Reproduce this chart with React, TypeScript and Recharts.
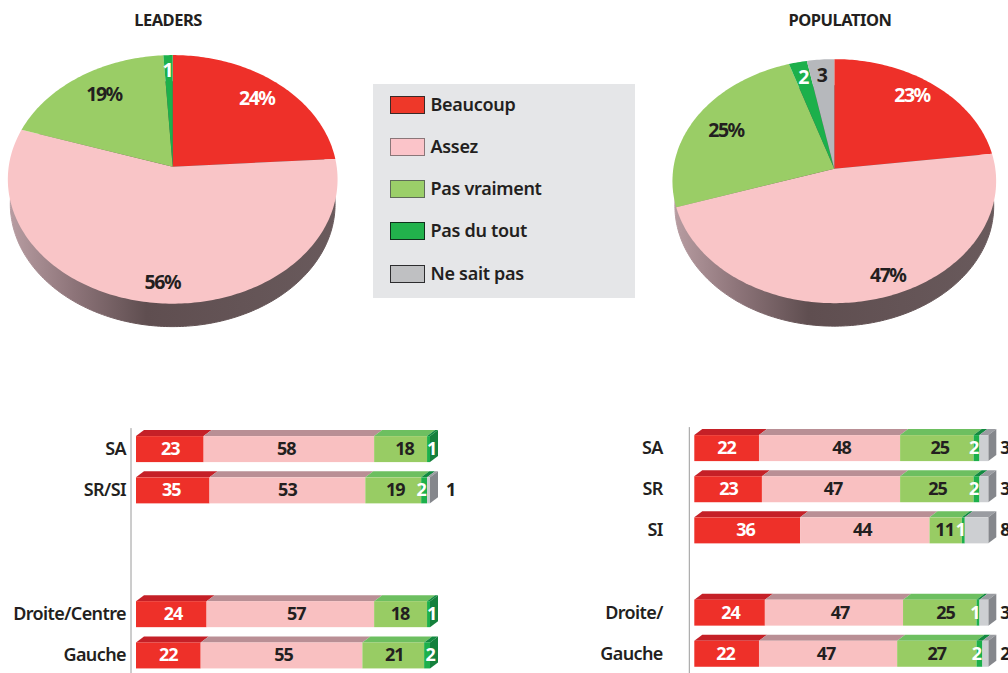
import React from "react";
import { PieChart, Pie, BarChart, Bar, XAxis, YAxis, LabelList } from "recharts";

// ---------- data ----------
const answerNames = ["Beaucoup", "Assez", "Pas vraiment", "Pas du tout", "Ne sait pas"];
const leadersPie = [24, 56, 19, 1, 0];
const populationPie = [23, 47, 25, 2, 3];
const leadersPieLabels = ["24%", "56%", "19%", "1", ""];
const populationPieLabels = ["23%", "47%", "25%", "2", "3"];

const leadersCategories = ["SA", "SR/SI", "", "", "Droite/Centre", "Gauche"];
const leadersBeaucoup = [23, 25, 0, 0, 24, 22];
const leadersBeaucoupLabels = [23, 35, 0, 0, 24, 22]; // the printed figure reads 35 on a bar 25 long
const leadersAssez = [58, 53, 0, 0, 57, 55];
const leadersPasVraiment = [18, 19, 0, 0, 18, 21];
const leadersPasDuTout = [1, 2, 0, 0, 1, 2];
const leadersNeSaitPas = [0, 1, 0, 0, 0, 0];

const populationCategories = ["SA", "SR", "SI", "", "Droite/", "Gauche"];
const populationBeaucoup = [22, 23, 36, 0, 24, 22];
const populationAssez = [48, 47, 44, 0, 47, 47];
const populationPasVraiment = [25, 25, 11, 0, 25, 27];
const populationPasDuTout = [2, 2, 1, 0, 1, 2];
const populationNeSaitPas = [3, 3, 8, 0, 3, 2];

// ---------- style ----------
const FONT = '"Noto Sans", sans-serif';
const INK = "#231f20";
const PIE_COLORS = ["#ee3029", "#f9c5c7", "#9acd66", "#1cb04b", "#b6b8bc"];
const SWATCH_COLORS = ["#ee3829", "#fbc4c9", "#9bcf69", "#22b24c", "#bfc0c2"];
const SWATCH_BORDERS = ["#3a2a28", "#8a7678", "#5f6b58", "#10301c", "#2c2c2e"];
const FRONT = ["#ee3029", "#f9c0c1", "#98cc64", "#1cb04b", "#cdcfd2"];
const TOP = ["#c52027", "#b98f95", "#6dbf60", "#128a40", "#9a9ca1"];
const SIDE = ["#a81c20", "#a07d80", "#5fa852", "#14803c", "#85878c"];
const LABEL_COLORS = ["#ffffff", INK, INK, "#ffffff", INK];

const PIE_TILT = 0.75;
const PIE_PERSPECTIVE = -0.102;
const PIE_DEPTH = 25;
const leadersLabelOffsets = [[84, -68], [-10.4, 116], [-68.7, -72.7], [-5.4, -96.7], [0, 0]];
const populationLabelOffsets = [[77.7, -73], [53.4, 106.6], [-108.3, -38.7], [-31.3, -91], [-12.6, -93.7]];
// horizontal hand placement of the printed figures, by series then row
const leadersLabelNudge = [
  [0.5, -1.5, 0, 0, 1.7, 0],
  [-2.5, 0, 0, 0, 6, 2],
  [4, 2, 0, 0, -0.5, 1],
];
const populationLabelNudge = [
  [0, 0.5, -1.7, 0, 1, -1],
  [12, 2, -2.5, 0, 6, -2],
  [3, 0.7, -1, 0, 5.7, 0],
];

const project = (cx: number, cy: number, R: number, deg: number) => {
  const a = (deg * Math.PI) / 180;
  const u = Math.cos(a);
  const v = -Math.sin(a);
  const w = 1 + PIE_PERSPECTIVE * v;
  return [cx + (R * u) / w, cy + (R * PIE_TILT * v) / w];
};

const slicePath = (cx: number, cy: number, R: number, start: number, end: number) => {
  const n = Math.max(1, Math.ceil(Math.abs(end - start)));
  let d = `M${cx},${cy}`;
  for (let i = 0; i <= n; i++) {
    const [x, y] = project(cx, cy, R, start + ((end - start) * i) / n);
    d += `L${x.toFixed(2)},${y.toFixed(2)}`;
  }
  return d + "Z";
};

const TopSlice = (p: any) => {
  const idx = answerNames.indexOf(p.payload?.name ?? p.name);
  return <path d={slicePath(p.cx, p.cy, p.outerRadius, p.startAngle, p.endAngle)} fill={PIE_COLORS[idx]} />;
};

const sideSlice = (gradId: string) => (p: any) => {
  const d = slicePath(p.cx, p.cy + PIE_DEPTH, p.outerRadius * 0.985, p.startAngle, p.endAngle);
  return <path d={d} fill={`url(#${gradId})`} stroke={`url(#${gradId})`} strokeWidth={1} />;
};

function TiltedPie({ values, labels, offsets, left, top, width, height, cx, cy, R, gradId }: any) {
  const table = answerNames.map((name, i) => ({ name, value: values[i] })).filter((d) => d.value > 0);
  const renderLabel = (p: any) => {
    const i = answerNames.indexOf(p.payload?.name ?? p.name);
    return (
      <text
        x={cx + offsets[i][0]}
        y={cy + offsets[i][1] - 1}
        textAnchor="middle"
        dominantBaseline="central"
        fontFamily={FONT}
        fontWeight={700}
        fontSize={19.5}
        letterSpacing={-1.5}
        fill={i === 0 || i === 3 ? "#ffffff" : INK}
      >
        {labels[i]}
      </text>
    );
  };
  return (
    <div style={{ position: "absolute", left, top }}>
      <PieChart width={width} height={height} margin={{ top: 0, right: 0, bottom: 0, left: 0 }}>
        <defs>
          <linearGradient id={gradId} gradientUnits="userSpaceOnUse" x1={cx - R} x2={cx + R} y1={0} y2={0}>
            <stop offset="0" stopColor="#b89da2" />
            <stop offset="0.2" stopColor="#8d7479" />
            <stop offset="0.42" stopColor="#5f4e50" />
            <stop offset="1" stopColor="#695a5c" />
          </linearGradient>
        </defs>
        <Pie
          data={table}
          dataKey="value"
          nameKey="name"
          cx={cx}
          cy={cy}
          outerRadius={R}
          startAngle={90}
          endAngle={-270}
          shape={sideSlice(gradId)}
          label={false}
          labelLine={false}
          isAnimationActive={false}
        />
        <Pie
          data={table}
          dataKey="value"
          nameKey="name"
          cx={cx}
          cy={cy}
          outerRadius={R}
          startAngle={90}
          endAngle={-270}
          shape={TopSlice}
          label={renderLabel}
          labelLine={false}
          isAnimationActive={false}
        />
      </PieChart>
    </div>
  );
}

const KEYS = ["beaucoup", "assez", "pasVraiment", "pasDuTout", "neSaitPas"];
const DX = 8;
const DY = 6;

const prism = (seriesIndex: number) => (p: any) => {
  const { x, y, width, height, payload } = p;
  if (!width || width <= 0) return <g />;
  const last = KEYS.slice(seriesIndex + 1).every((k) => !payload[k]);
  return (
    <g>
      <path
        d={`M${x},${y}L${x + width},${y}L${x + width + DX},${y - DY}L${x + DX},${y - DY}Z`}
        fill={TOP[seriesIndex]}
      />
      {last && (
        <path
          d={`M${x + width},${y}L${x + width + DX},${y - DY}L${x + width + DX},${y + height - DY}L${x + width},${y + height}Z`}
          fill={SIDE[seriesIndex]}
        />
      )}
      <rect x={x} y={y} width={width} height={height} fill={FRONT[seriesIndex]} />
    </g>
  );
};

const segmentLabel = (seriesIndex: number, rows: any[], outsideGap: number, nudge: number[][]) => (p: any) => {
  const { x, y, width, height, value, index } = p;
  if (!value) return null;
  let cx = x + width / 2;
  if (seriesIndex < 3) cx += nudge[seriesIndex][index];
  if (seriesIndex === 3) cx += rows[index].neSaitPas ? -3 : 3;
  if (seriesIndex === 4) cx = x + width + DX + outsideGap;
  const outside = seriesIndex === 4;
  return (
    <text
      x={cx}
      y={y + height / 2 - 1}
      textAnchor="middle"
      dominantBaseline="central"
      fontFamily={FONT}
      fontWeight={700}
      fontSize={18}
      letterSpacing={-1}
      fill={outside ? INK : LABEL_COLORS[seriesIndex]}
    >
      {value}
    </text>
  );
};

function StackedPrisms({ rows, left, top, width, height, axisWidth, tickMargin, plotTop, plotHeight, outsideGap, nudge }: any) {
  return (
    <div style={{ position: "absolute", left, top }}>
      <BarChart
        layout="vertical"
        width={width}
        height={height}
        data={rows}
        margin={{ top: plotTop, bottom: height - plotTop - plotHeight, left: 0, right: width - axisWidth - 299 }}
        barCategoryGap={0}
      >
        <XAxis type="number" domain={[0, 100]} hide padding={{ left: 5, right: 0 }} />
        <YAxis
          type="category"
          dataKey="category"
          width={axisWidth}
          interval={0}
          tickLine={false}
          tickSize={0}
          tickMargin={tickMargin}
          axisLine={{ stroke: "#9a9a9a", strokeWidth: 1 }}
          tick={{ fontFamily: FONT, fontWeight: 600, fontSize: 18, fill: INK, letterSpacing: -0.6 }}
        />
        {KEYS.map((k, i) => (
          <Bar key={k} dataKey={k} stackId="a" barSize={26} shape={prism(i)} isAnimationActive={false}>
            <LabelList dataKey={i === 0 ? "beaucoupLabel" : k} content={segmentLabel(i, rows, outsideGap, nudge)} />
          </Bar>
        ))}
      </BarChart>
    </div>
  );
}

const buildRows = (cats: string[], a: number[], aLabels: number[], b: number[], c: number[], d: number[], e: number[]) =>
  cats.map((category, i) => ({
    category,
    beaucoup: a[i],
    beaucoupLabel: aLabels[i],
    assez: b[i],
    pasVraiment: c[i],
    pasDuTout: d[i],
    neSaitPas: e[i],
  }));

const leadersRows = buildRows(leadersCategories, leadersBeaucoup, leadersBeaucoupLabels, leadersAssez, leadersPasVraiment, leadersPasDuTout, leadersNeSaitPas);
const populationRows = buildRows(populationCategories, populationBeaucoup, populationBeaucoup, populationAssez, populationPasVraiment, populationPasDuTout, populationNeSaitPas);

const titleStyle = (center: number): React.CSSProperties => ({
  position: "absolute",
  left: center - 80,
  width: 160,
  top: 9,
  textAlign: "center",
  fontFamily: FONT,
  fontWeight: 700,
  fontSize: 16.5,
  lineHeight: "22px",
  letterSpacing: -0.5,
  color: INK,
});

export default function App() {
  return (
    <div style={{ position: "absolute", left: 0, top: 0, width: 1008, height: 673, overflow: "hidden", background: "#fff" }}>
      <div style={titleStyle(168)}>LEADERS</div>
      <div style={titleStyle(840)}>POPULATION</div>

      <TiltedPie values={leadersPie} labels={leadersPieLabels} offsets={leadersLabelOffsets} left={0} top={0} width={350} height={340} cx={172.7} cy={166.7} R={164} gradId="sideL" />
      <TiltedPie values={populationPie} labels={populationPieLabels} offsets={populationLabelOffsets} left={660} top={0} width={348} height={340} cx={174.3} cy={168.7} R={161} gradId="sideP" />

      <div style={{ position: "absolute", left: 373, top: 84, width: 262, height: 214, background: "#e5e6e8" }}>
        {answerNames.map((name, i) => (
          <div key={name} style={{ position: "absolute", left: 17, top: 11.5 + i * 42.25, height: 18, display: "flex", alignItems: "center" }}>
            <div style={{ width: 33, height: 16, background: SWATCH_COLORS[i], border: `1px solid ${SWATCH_BORDERS[i]}` }} />
            <div style={{ marginLeft: 5.5, marginTop: -2, fontFamily: FONT, fontWeight: 600, fontSize: 18, color: INK, whiteSpace: "nowrap", letterSpacing: -0.3 }}>{name}</div>
          </div>
        ))}
      </div>

      <StackedPrisms rows={leadersRows} left={0} top={400} width={480} height={290} axisWidth={131} tickMargin={5} plotTop={28.1} plotHeight={247.6} outsideGap={12.7} nudge={leadersLabelNudge} />
      <StackedPrisms rows={populationRows} left={590} top={400} width={480} height={290} axisWidth={99.3} tickMargin={26.5} plotTop={27.1} plotHeight={246.8} outsideGap={8.5} nudge={populationLabelNudge} />
    </div>
  );
}
